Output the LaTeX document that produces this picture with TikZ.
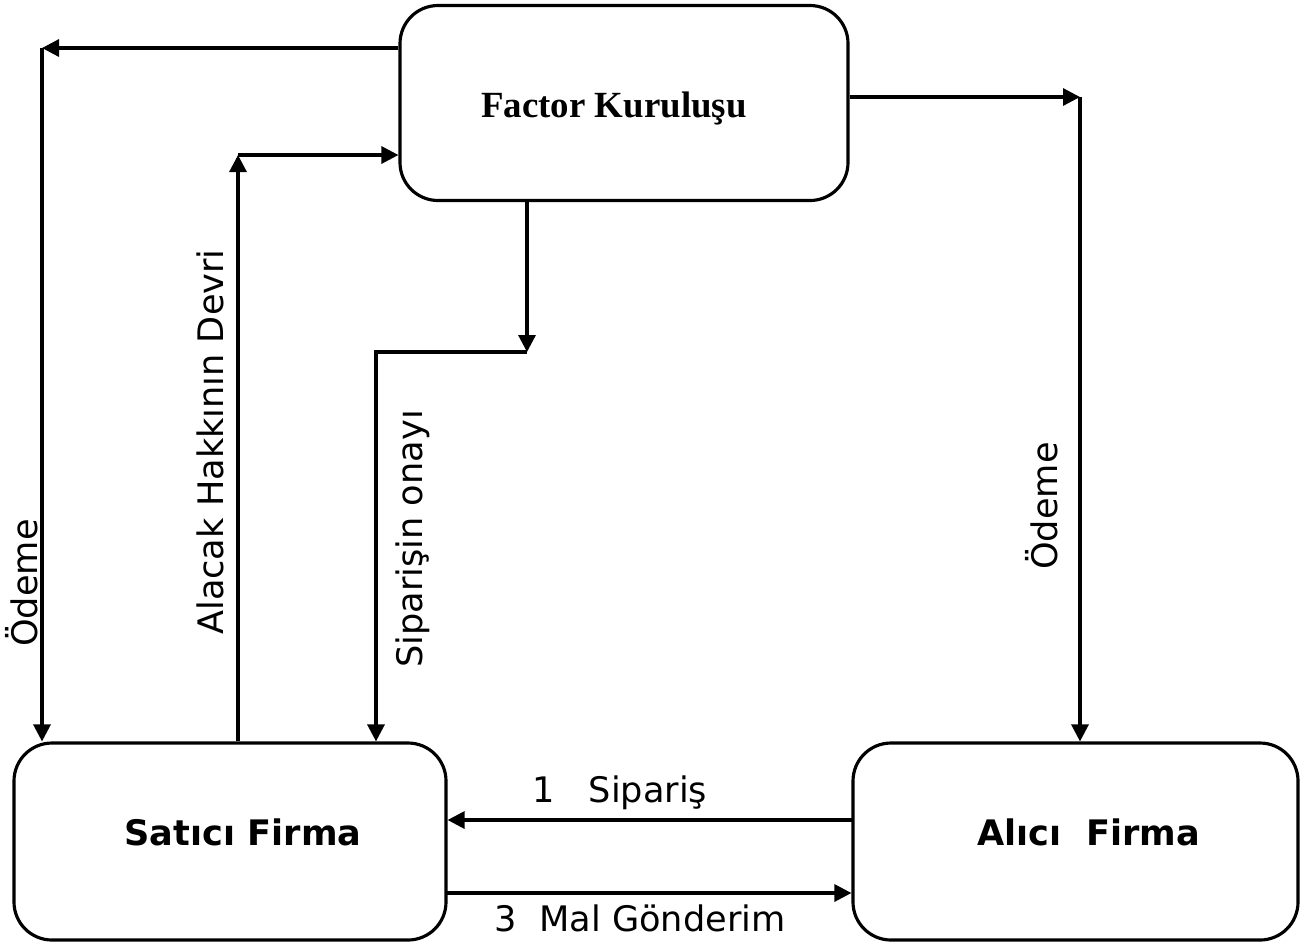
\documentclass[tikz,border=0pt]{standalone}
\usepackage{fontspec}
\setmainfont{Liberation Serif}
\setsansfont{DejaVu Sans}
\usetikzlibrary{arrows.meta, calc}

\begin{document}
\begin{tikzpicture}[>={Triangle[length=1.7mm,width=1.7mm]}, line width=0.9pt,
  box/.style={draw, rounded corners=0.38cm, inner sep=0pt},
  lbl/.style={font=\sffamily\fontsize{10}{12}\selectfont, inner sep=1pt},
  bigl/.style={font=\sffamily\bfseries\fontsize{10}{12}\selectfont}]
  \useasboundingbox (0,0) rectangle (13.08,-9.46);
  % ===== Kutular =====
  \node[box, minimum width=4.48cm, minimum height=1.95cm] (factor) at (6.24,-1.03){};
  \node[font=\rmfamily\bfseries\fontsize{10.5}{12}\selectfont] (factort) at ($(factor)+(-0.10,-0.05)$){Factor Kuruluşu};
  \node[box, minimum width=4.32cm, minimum height=1.97cm] (satici) at (2.30,-8.415){};
  \node[bigl] (saticit) at ($(satici)+(0.13,0.09)$){Satıcı Firma};
  \node[box, minimum width=4.45cm, minimum height=1.97cm] (alici) at (10.755,-8.415){};
  \node[bigl] (alicit) at ($(alici)+(0.13,0.09)$){Alıcı\ \ Firma};
  % ===== Köşe noktaları =====
  \coordinate (odL) at (0.42,-0.48);
  \coordinate (ala) at (2.38,-1.55);
  \coordinate (sip1) at (5.27,-3.52); \coordinate (sip2) at (3.76,-3.52);
  \coordinate (odR) at (10.80,-0.97);
  % ===== Ödeme (sol) =====
  \draw[->] (factor.west |- odL) -- (odL);
  \draw[->] (odL) -- (odL |- satici.north);
  \node[lbl, rotate=90] (odLt) at (0.22,-5.83){Ödeme};
  % ===== Alacak Hakkının Devri =====
  \draw[->] (ala |- satici.north) -- (ala);
  \draw[->] (ala) -- (factor.west |- ala);
  \node[lbl, rotate=90] (alat) at (2.10,-4.42){Alacak Hakkının Devri};
  % ===== Siparişin onayı =====
  \draw[->] (sip1 |- factor.south) -- (sip1);
  \draw[->] (sip1) -- (sip2) -- (sip2 |- satici.north);
  \node[lbl, rotate=90] (sipt) at (4.13,-5.39){Siparişin onayı};
  % ===== Ödeme (sağ) =====
  \draw[->] (factor.east |- odR) -- (odR);
  \draw[->] (odR) -- (odR |- alici.north);
  \node[lbl, rotate=90] (odRt) at (10.42,-5.06){Ödeme};
  % ===== Sipariş / Mal Gönderim =====
  \coordinate (s1) at (8.53,-8.20); \coordinate (m3) at (4.46,-8.93);
  \draw[->] (s1) -- (satici.east |- s1);
  \node[lbl] (s1t) at (6.20,-7.93){1\ \ \ Sipariş};
  \draw[->] (m3) -- (alici.west |- m3);
  \node[lbl] (m3t) at (6.40,-9.18){3\ \ Mal Gönderim};
\end{tikzpicture}
\end{document}
